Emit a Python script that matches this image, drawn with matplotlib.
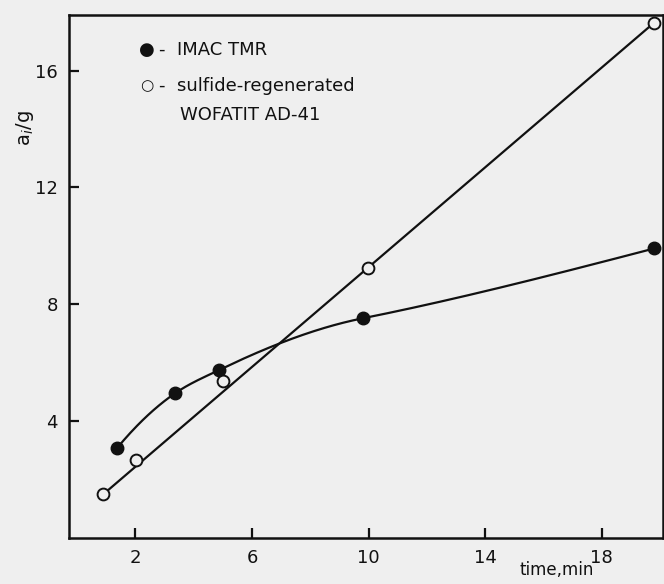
import numpy as np
import matplotlib
matplotlib.use("Agg")
import matplotlib.pyplot as plt

# Data
imac_x = [1.37, 3.37, 4.85, 9.8, 19.8]
imac_y = [3.08, 4.96, 5.74, 7.52, 9.91]
imac_slopes = [1.2, 0.68, 0.48, 0.2, 0.26]   # tangent of the hand-drawn curve at each point
sulf_x = [0.9, 2.03, 5.0, 9.97, 19.8]
sulf_y = [1.5, 2.67, 5.37, 9.23, 17.64]
xticks = [2, 6, 10, 14, 18]
yticks = [4, 8, 12, 16]


def hermite(x, y, m, xs):
    x = np.asarray(x, float); y = np.asarray(y, float); m = np.asarray(m, float)
    h = np.diff(x)
    out = np.empty_like(xs)
    for i, xv in enumerate(xs):
        k = int(np.clip(np.searchsorted(x, xv) - 1, 0, len(x) - 2))
        t = (xv - x[k]) / h[k]
        h00 = 2*t**3 - 3*t**2 + 1; h10 = t**3 - 2*t**2 + t
        h01 = -2*t**3 + 3*t**2; h11 = t**3 - t**2
        out[i] = h00*y[k] + h10*h[k]*m[k] + h01*y[k+1] + h11*h[k]*m[k+1]
    return out


bg = '#efefef'
ink = '#111111'
fig = plt.figure(figsize=(6.64, 5.84), dpi=100, facecolor=bg)
ax = fig.add_axes([69/664, 1 - 538/584, (663 - 69)/664, (538 - 15)/584])
ax.set_facecolor(bg)
ax.set_xlim(-0.28, 20.1)
ax.set_ylim(0, 17.9)

xs = np.linspace(imac_x[0], imac_x[-1], 400)
ax.plot(xs, hermite(imac_x, imac_y, imac_slopes, xs), color=ink, lw=1.6)
ax.plot([sulf_x[0], sulf_x[-1]], [sulf_y[0], sulf_y[-1]], color=ink, lw=1.6)

ax.plot(imac_x, imac_y, 'o', color=ink, ms=9, zorder=3)
ax.plot(sulf_x, sulf_y, 'o', mfc=bg, mec=ink, mew=1.4, ms=8.5, zorder=3)

for s in ax.spines.values():
    s.set_linewidth(1.8)
    s.set_color(ink)
ax.set_xticks(xticks)
ax.set_yticks(yticks)
ax.tick_params(direction='in', length=7, width=1.6, labelsize=13, pad=8,
               colors=ink)

fig.text(25/664, 1 - 128/584, 'a$_i$/g', rotation=90, fontsize=14,
         ha='center', va='center', color=ink)
fig.text(557/664, 1 - 570/584, 'time,min', fontsize=12, ha='center',
         va='center', color=ink)

# legend
fig.text(147/664, 1 - 50/584, '●', fontsize=13, ha='center', va='center', color=ink)
fig.text(147/664, 1 - 86/584, '○', fontsize=11, ha='center', va='center', color=ink)
fig.text(159/664, 1 - 50/584, '-  IMAC TMR', fontsize=13, va='center', color=ink)
fig.text(159/664, 1 - 86/584, '-  sulfide-regenerated', fontsize=13, va='center', color=ink)
fig.text(180/664, 1 - 115/584, 'WOFATIT AD-41', fontsize=13, va='center', color=ink)

fig.savefig('out.png', dpi=100, facecolor=bg)
